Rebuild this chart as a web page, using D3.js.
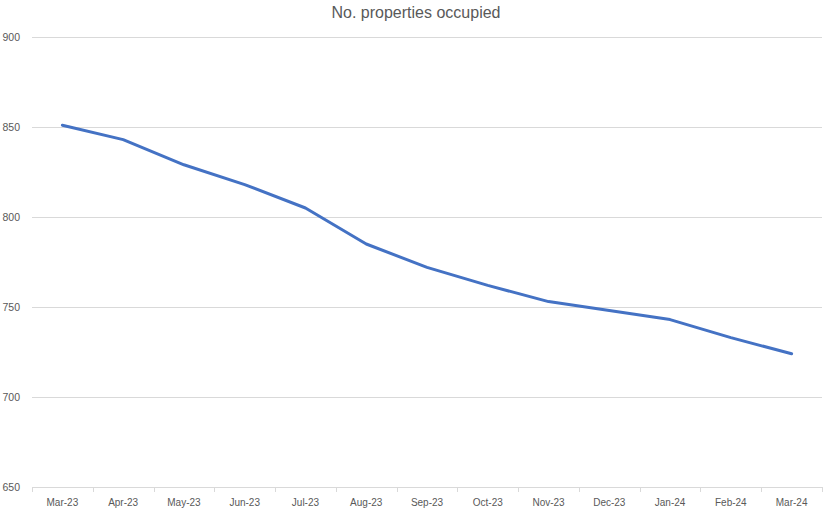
<!DOCTYPE html>
<html>
<head>
<meta charset="utf-8">
<script src="https://cdnjs.cloudflare.com/ajax/libs/d3/7.8.5/d3.min.js"></script>
<style>
  body { margin: 0; background: #fff; }
  svg text { font-family: "Liberation Sans", Arial, sans-serif; fill: #595959; }
</style>
</head>
<body>
<div id="chart"></div>
<script>
let months = ["Mar-23", "Apr-23", "May-23", "Jun-23", "Jul-23", "Aug-23", "Sep-23",
  "Oct-23", "Nov-23", "Dec-23", "Jan-24", "Feb-24", "Mar-24"];
let occupied = [851, 843, 829, 818, 805, 785, 772, 762, 753, 748, 743, 733, 724];
let yTicks = [650, 700, 750, 800, 850, 900];
let title = "No. properties occupied";

let width = 823, height = 508;
let margin = {top: 37, right: 1, bottom: 21, left: 32};

let svg = d3.select('#chart').append('svg')
  .attr('width', width)
  .attr('height', height);

let x = d3.scaleBand()
  .domain(months)
  .range([margin.left, width - margin.right]);

let y = d3.scaleLinear()
  .domain([650, 900])
  .range([height - margin.bottom, margin.top]);

// title
svg.append('text')
  .attr('x', 416)
  .attr('y', 18)
  .attr('text-anchor', 'middle')
  .style('font-size', '16px')
  .text(title);

// gridlines
svg.append('g').selectAll('line')
  .data(yTicks)
  .enter().append('line')
  .attr('x1', margin.left)
  .attr('x2', width - margin.right)
  .attr('y1', d => Math.round(y(d)) + 0.5)
  .attr('y2', d => Math.round(y(d)) + 0.5)
  .attr('stroke', '#d9d9d9')
  .attr('stroke-width', 1);

// y labels
svg.append('g').selectAll('text')
  .data(yTicks)
  .enter().append('text')
  .attr('x', 20)
  .attr('y', d => y(d))
  .attr('dy', '0.35em')
  .attr('text-anchor', 'end')
  .style('font-size', '10.5px')
  .text(d => d);

// x tick marks at category boundaries
let bounds = months.map(m => x(m)).concat([x(months[months.length - 1]) + x.bandwidth()]);
svg.append('g').selectAll('line')
  .data(bounds)
  .enter().append('line')
  .attr('x1', d => Math.round(d) + 0.5)
  .attr('x2', d => Math.round(d) + 0.5)
  .attr('y1', Math.round(y(650)))
  .attr('y2', Math.round(y(650)) + 5)
  .attr('stroke', '#d9d9d9');

// x labels
svg.append('g').selectAll('text')
  .data(months)
  .enter().append('text')
  .attr('x', d => x(d) + x.bandwidth() / 2)
  .attr('y', 502)
  .attr('dy', '0.35em')
  .attr('text-anchor', 'middle')
  .style('font-size', '10px')
  .text(d => d);

// line
let line = d3.line()
  .x((d, i) => x(months[i]) + x.bandwidth() / 2)
  .y(d => y(d));

svg.append('path')
  .datum(occupied)
  .attr('d', line)
  .attr('fill', 'none')
  .attr('stroke', '#4472c4')
  .attr('stroke-width', 3)
  .attr('stroke-linejoin', 'round')
  .attr('stroke-linecap', 'round');
</script>
</body>
</html>
